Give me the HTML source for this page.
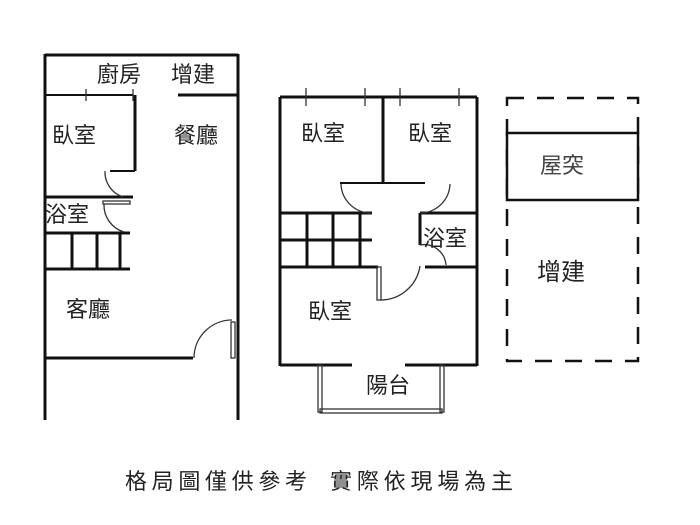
<!DOCTYPE html>
<html><head><meta charset="utf-8"><style>body{margin:0;background:#fff}svg{display:block}</style></head><body>
<svg width="700" height="525" xmlns="http://www.w3.org/2000/svg" font-family="Liberation Sans, Noto Sans CJK TC, sans-serif" fill="none">
<g stroke="#111" stroke-width="3">
<line x1="45" y1="55" x2="238" y2="55"/>
<line x1="45" y1="54" x2="45" y2="420"/>
<line x1="238" y1="54" x2="238" y2="420"/>
<line x1="45" y1="95" x2="133" y2="95" stroke-width="2"/>
<line x1="178" y1="95" x2="238" y2="95"/>
<line x1="135" y1="95" x2="135" y2="171"/>
<line x1="110" y1="171" x2="135" y2="171" stroke-width="2"/>
<line x1="45" y1="197" x2="133" y2="197"/>
<line x1="45" y1="233" x2="130" y2="233"/>
<line x1="72" y1="233" x2="72" y2="269"/>
<line x1="97" y1="233" x2="97" y2="269"/>
<line x1="120" y1="233" x2="120" y2="269"/>
<line x1="45" y1="269" x2="130" y2="269"/>
<line x1="45" y1="358" x2="193" y2="358"/>
</g>
<g stroke="#333" stroke-width="1.3">
<line x1="86" y1="89" x2="86" y2="101"/>
<line x1="133" y1="89" x2="133" y2="101"/>
<path d="M105 171 A26 26 0 0 0 123 197"/>
<rect x="103" y="201" width="27" height="3"/>
<path d="M104 204 A28 28 0 0 0 124 232"/>
<path d="M194 358 A38 38 0 0 1 232 320"/>
<rect x="231" y="322" width="4" height="36"/>
</g>
<g stroke="#111" stroke-width="3">
<line x1="280" y1="97" x2="477" y2="97"/>
<line x1="280" y1="97" x2="280" y2="366"/>
<line x1="477" y1="97" x2="477" y2="366"/>
<line x1="383" y1="97" x2="383" y2="183"/>
<line x1="340" y1="183" x2="425" y2="183" stroke-width="2"/>
<line x1="280" y1="213" x2="372" y2="213"/>
<line x1="280" y1="240" x2="372" y2="240"/>
<line x1="280" y1="267" x2="378" y2="267"/>
<line x1="307" y1="213" x2="307" y2="267"/>
<line x1="333" y1="213" x2="333" y2="267"/>
<line x1="360" y1="213" x2="360" y2="267"/>
<line x1="420" y1="213" x2="477" y2="213"/>
<line x1="420" y1="213" x2="420" y2="245"/>
<line x1="425" y1="267" x2="477" y2="267"/>
<line x1="280" y1="365" x2="352" y2="365"/>
<line x1="405" y1="365" x2="477" y2="365"/>
</g>
<g stroke="#333" stroke-width="1.3">
<line x1="306" y1="88" x2="306" y2="106"/>
<line x1="365" y1="88" x2="365" y2="106"/>
<line x1="400" y1="88" x2="400" y2="106"/>
<line x1="459" y1="88" x2="459" y2="106"/>
<path d="M341 184 A30 30 0 0 0 371 213"/>
<path d="M450 184 A30 30 0 0 1 420 213"/>
<path d="M420 245 A22 22 0 0 1 446 265"/>
<rect x="377" y="267" width="4" height="33"/>
<path d="M380 300 A40 40 0 0 0 420 266"/>
<rect x="318" y="365" width="4" height="47"/>
<rect x="440" y="365" width="4" height="47"/>
<rect x="320" y="409" width="122" height="4"/>
</g>
<rect x="507" y="98" width="131" height="263" stroke="#111" stroke-width="2.5" stroke-dasharray="17,13"/>
<rect x="507" y="133" width="131" height="67" fill="#fff" stroke="#111" stroke-width="2.5"/>
<g fill="#222" stroke="none" font-size="22">
<text x="97" y="82">廚房</text>
<text x="171" y="82">增建</text>
<text x="52" y="143">臥室</text>
<text x="174" y="143">餐廳</text>
<text x="45" y="222">浴室</text>
<text x="66" y="317">客廳</text>
<text x="301" y="141">臥室</text>
<text x="408" y="141">臥室</text>
<text x="423" y="246">浴室</text>
<text x="308" y="319">臥室</text>
<text x="366" y="393">陽台</text>
<text x="540" y="173" fill="#444">屋突</text>
<text x="537" y="280" font-size="24">增建</text>
<text x="125" y="489" font-size="22" textLength="182" lengthAdjust="spacing">格局圖僅供參考</text>
<text x="330" y="489" font-size="22" textLength="183" lengthAdjust="spacing">實際依現場為主</text>
</g>
</svg>
</body></html>
